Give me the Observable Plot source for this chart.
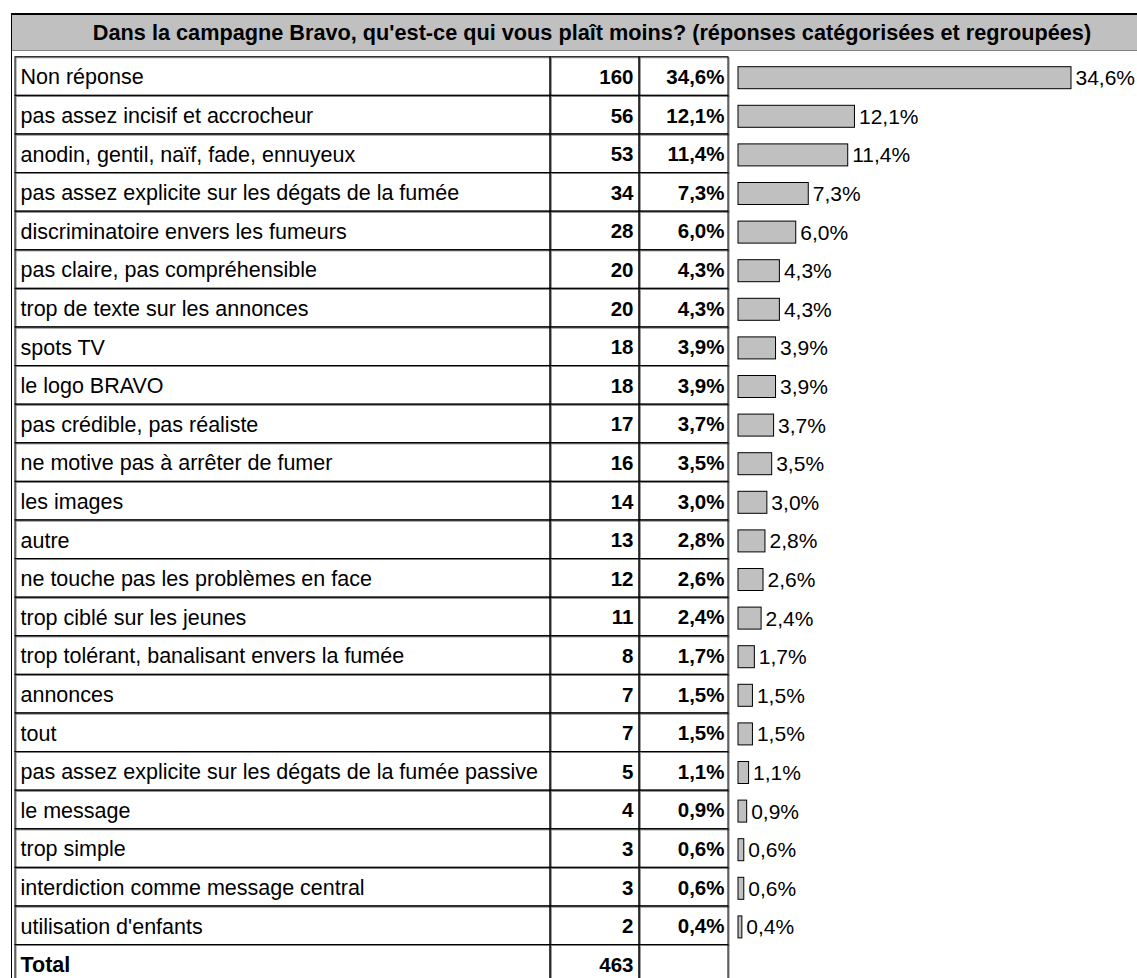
<!DOCTYPE html>
<html>
<head>
<meta charset="utf-8">
<script src="https://cdn.jsdelivr.net/npm/d3@7"></script>
<script src="https://cdn.jsdelivr.net/npm/@observablehq/plot@0.6"></script>
<style>
  html, body { margin: 0; padding: 0; background: #fff; overflow: hidden; }
  body { width: 1137px; height: 978px; position: relative; font-family: "Liberation Sans", Arial, sans-serif; }
  #frame {
    position: absolute; left: 11px; top: 13px; right: -60px; bottom: -10px;
    border-left: 1px solid #000; border-top: 2px solid #000;
    pointer-events: none; z-index: 2;
  }
  #title {
    position: absolute; left: 12px; top: 15px; width: 1160px; height: 35px;
    background: #c0c0c0; border-bottom: 1px solid #808080;
    display: flex; align-items: center; justify-content: center;
    font-weight: bold; font-size: 21.7px; color: #000; white-space: nowrap;
  }
  #chart { position: absolute; left: 0; top: 56px; }
  #chart svg { overflow: visible; display: block; }
</style>
</head>
<body>
<div id="title">Dans la campagne Bravo, qu'est-ce qui vous plaît moins? (réponses catégorisées et regroupées)</div>
<div id="frame"></div>
<div id="chart"></div>
<script>
// Survey answers: category, number of answers, share of all answers (%)
const categories = [
  "Non réponse",
  "pas assez incisif et accrocheur",
  "anodin, gentil, naïf, fade, ennuyeux",
  "pas assez explicite sur les dégats de la fumée",
  "discriminatoire envers les fumeurs",
  "pas claire, pas compréhensible",
  "trop de texte sur les annonces",
  "spots TV",
  "le logo BRAVO",
  "pas crédible, pas réaliste",
  "ne motive pas à arrêter de fumer",
  "les images",
  "autre",
  "ne touche pas les problèmes en face",
  "trop ciblé sur les jeunes",
  "trop tolérant, banalisant envers la fumée",
  "annonces",
  "tout",
  "pas assez explicite sur les dégats de la fumée passive",
  "le message",
  "trop simple",
  "interdiction comme message central",
  "utilisation d'enfants"
];
const counts = [160, 56, 53, 34, 28, 20, 20, 18, 18, 17, 16, 14, 13, 12, 11, 8, 7, 7, 5, 4, 3, 3, 2];
const percents = [34.6, 12.1, 11.4, 7.3, 6.0, 4.3, 4.3, 3.9, 3.9, 3.7, 3.5, 3.0, 2.8, 2.6, 2.4, 1.7, 1.5, 1.5, 1.1, 0.9, 0.6, 0.6, 0.4];
const totalLabel = "Total";
const totalCount = 463;

const rows = categories.map((label, i) => ({label, count: counts[i], pct: percents[i]}));
const totalRow = {label: totalLabel, count: totalCount};
const tableRows = [...rows, totalRow];

const fr = d3.formatLocale({decimal: ",", thousands: " ", grouping: [3], currency: ["", " €"]});
const pctFmt = (v) => fr.format(".1f")(v) + "%";

// Layout
const W = 1137;
const rowH = 38.6;
const padTop = 0.7;
const H = 930;
const tableLeft = 15, col1 = 550, col2 = 639, tableRight = 728;
const barLeft = 738, barRight = 1071;
const font = "Liberation Sans, Arial, sans-serif";

// a table column spanning [a, b] in pixels, drawn as a cell per row
function column(a, b, stroke, shift = 0) {
  return Plot.cell(tableRows, {
    y: "label",
    fill: "none",
    stroke,
    strokeWidth: 1,
    insetLeft: a + shift,
    insetRight: W - b - shift,
    insetTop: shift,
    insetBottom: -shift
  });
}

const chart = Plot.plot({
  width: W,
  height: H,
  marginLeft: 0,
  marginRight: 0,
  marginTop: 0,
  marginBottom: 0,
  style: {fontFamily: font, fontSize: "21.5px", color: "#000", background: "transparent"},
  x: {domain: [0, d3.max(percents)], range: [barLeft, barRight], axis: null},
  y: {
    domain: tableRows.map((d) => d.label),
    range: [padTop, padTop + tableRows.length * rowH],
    padding: 0, round: false, axis: null
  },
  marks: [
    // table grid: grey shadow then black lines
    column(tableLeft, col1, "#808080", 1),
    column(col1, col2, "#808080", 1),
    column(col2, tableRight, "#808080", 1),
    column(tableLeft, col1, "#000"),
    column(col1, col2, "#000"),
    column(col2, tableRight, "#000"),
    // table text
    Plot.text(rows, {
      y: "label", text: "label", frameAnchor: "left", dx: 20, dy: 1,
      fontSize: 21.5, fill: "#000"
    }),
    Plot.text([totalRow], {
      y: "label", text: "label", frameAnchor: "left", dx: 20, dy: 1,
      fontSize: 21.5, fontWeight: "bold", fill: "#000"
    }),
    Plot.text(tableRows, {
      y: "label", text: (d) => String(d.count), frameAnchor: "left", dx: col2 - 6, dy: 1,
      textAnchor: "end", fontSize: 20.5, fontWeight: "bold", fill: "#000"
    }),
    Plot.text(rows, {
      y: "label", text: (d) => pctFmt(d.pct), frameAnchor: "left", dx: tableRight - 4, dy: 1,
      textAnchor: "end", fontSize: 20.5, fontWeight: "bold", fill: "#000"
    }),
    // bar axis line
    Plot.ruleX(rows, {x: 0, y: "label", stroke: "#555", strokeWidth: 1}),
    // bars
    Plot.barX(rows, {
      x: "pct", y: "label", fill: "#c0c0c0", stroke: "#000", strokeWidth: 1,
      insetTop: 10, insetBottom: 6.6
    }),
    Plot.text(rows, {
      x: "pct", y: "label", text: (d) => pctFmt(d.pct), textAnchor: "start", dx: 4, dy: 2,
      fontSize: 21, fill: "#000"
    })
  ]
});

document.getElementById("chart").appendChild(chart);
</script>
</body>
</html>
